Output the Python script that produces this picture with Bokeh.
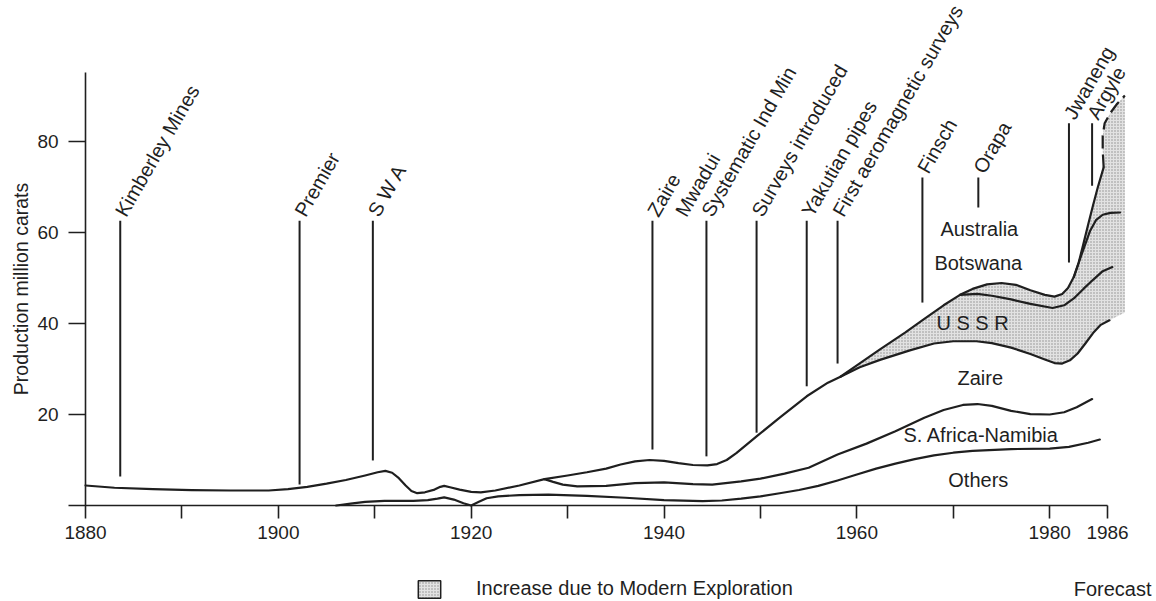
import numpy as np
from bokeh.plotting import figure
from bokeh.models import FixedTicker, Legend, LegendItem, Label
from bokeh.core.properties import value
from bokeh.embed import file_html
from bokeh.resources import INLINE

FONT = "Liberation Sans"
INK = "#1f1f1f"

# ---------------------------------------------------------------------------
# World diamond production, million carats.  Each array is the upper edge of a
# producer band, stacked from the bottom (Others -> S. Africa-Namibia -> Zaire
# -> USSR -> Botswana -> Australia).
# ---------------------------------------------------------------------------
others_years = [1906.0, 1907.5, 1909.0, 1911.0, 1914.0, 1915.5, 1916.5, 1917.2,
                1918.2, 1919.2, 1920.0, 1920.8, 1921.6, 1922.8, 1925.0, 1928.0,
                1932.0, 1936.0, 1940.0, 1944.0, 1946.0, 1948.0, 1950.0, 1952.0,
                1954.0, 1956.0, 1958.0, 1960.0, 1962.0, 1964.0, 1966.0, 1968.0,
                1970.0, 1972.0, 1976.0, 1980.0, 1982.0, 1984.0, 1985.2]
others_top = [0.0, 0.4, 0.8, 1.0, 1.0, 1.2, 1.5, 1.8,
              1.3, 0.5, 0.0, 0.8, 1.6, 2.0, 2.3, 2.4,
              2.1, 1.7, 1.2, 0.95, 1.1, 1.5, 2.0, 2.7,
              3.4, 4.3, 5.5, 6.8, 8.1, 9.2, 10.2, 11.0,
              11.6, 12.0, 12.4, 12.5, 12.9, 13.8, 14.5]

safrica_years = [1880.0, 1883.0, 1887.0, 1891.0, 1895.0, 1899.0, 1901.0, 1903.0,
                 1905.0, 1907.0, 1909.0, 1910.3, 1911.1, 1911.8, 1912.5, 1913.2,
                 1913.8, 1914.4, 1915.2, 1916.2, 1916.8, 1917.2, 1917.8, 1918.8,
                 1920.0, 1921.0, 1922.5, 1925.0, 1927.6, 1928.5, 1929.5, 1931.0,
                 1934.0, 1937.0, 1940.0, 1943.0, 1945.0, 1948.0, 1950.0, 1952.5,
                 1955.0, 1958.0, 1961.0, 1964.0, 1967.0, 1969.0, 1971.0, 1972.5,
                 1974.0, 1976.0, 1978.0, 1980.0, 1981.5, 1982.8, 1984.4]
safrica_top = [4.4, 3.9, 3.6, 3.4, 3.3, 3.3, 3.6, 4.1,
               4.8, 5.6, 6.6, 7.3, 7.6, 7.2, 6.0, 4.4,
               3.2, 2.7, 2.9, 3.5, 4.1, 4.3, 4.0, 3.5,
               3.0, 2.9, 3.3, 4.4, 5.8, 5.2, 4.6, 4.2,
               4.3, 4.9, 5.1, 4.7, 4.6, 5.3, 5.9, 7.0,
               8.3, 11.2, 13.6, 16.3, 19.3, 21.0, 22.1, 22.3,
               21.9, 20.8, 20.1, 20.0, 20.5, 21.6, 23.4]

zaire_years = [1927.6, 1930.0, 1932.0, 1934.0, 1935.5, 1937.0, 1938.5, 1940.0,
               1941.5, 1943.0, 1944.5, 1945.5, 1946.5, 1947.5, 1949.6, 1952.0,
               1954.8, 1957.0, 1958.3, 1960.3, 1962.4, 1965.5, 1968.0, 1970.0,
               1972.4, 1974.0, 1976.0, 1978.0, 1979.5, 1980.5, 1981.3, 1982.1,
               1982.9, 1983.7, 1984.5, 1985.3, 1986.2]
zaire_top = [5.8, 6.6, 7.3, 8.1, 9.0, 9.7, 10.0, 9.8,
             9.3, 8.9, 8.8, 9.1, 10.0, 11.5, 15.2, 19.3,
             24.0, 27.0, 28.3, 30.4, 32.0, 34.1, 35.6, 36.1,
             36.1, 35.7, 34.7, 33.3, 32.1, 31.3, 31.2, 31.9,
             33.4, 35.6, 37.9, 39.7, 40.7]

ussr_years = [1958.3, 1960.0, 1962.4, 1965.0, 1967.0, 1969.0, 1970.7, 1972.5,
              1974.0, 1976.0, 1978.0, 1980.3, 1981.5, 1982.5, 1983.5, 1984.5,
              1985.5, 1986.5]
ussr_top = [28.3, 30.8, 34.3, 38.0, 41.0, 44.0, 46.3, 46.5,
            46.1, 45.3, 44.3, 43.4, 44.0, 45.5, 47.6, 49.6,
            51.5, 52.4]

botswana_years = [1970.7, 1972.0, 1973.5, 1975.0, 1976.5, 1978.0, 1979.5, 1980.5,
                  1981.3, 1981.9, 1982.5, 1983.0, 1983.5, 1984.2, 1984.8, 1985.5,
                  1986.3, 1987.3]
botswana_top = [46.3, 47.6, 48.6, 48.9, 48.5, 47.3, 46.3, 45.9,
                46.5, 47.8, 50.2, 53.3, 56.3, 60.4, 62.7, 63.9,
                64.3, 64.4]

australia_years = [1982.5, 1983.0, 1983.5, 1984.0, 1984.5, 1985.0, 1985.6]
australia_top = [50.2, 53.3, 57.5, 61.8, 66.0, 70.0, 74.3]

# forecast total to the end of the decade
forecast_years = [1985.6, 1985.5, 1985.5, 1985.7, 1986.3, 1987.0, 1987.8]
forecast_top = [74.3, 78.0, 81.3, 84.0, 86.3, 88.3, 90.1]
forecast_floor_years = [1986.2, 1987.8]
forecast_floor = [40.7, 42.4]

# discoveries and exploration milestones
event_labels = ["Kimberley Mines", "Premier", "S W A", "Zaire", "Mwadui",
                "Systematic Ind Min", "Surveys introduced", "Yakutian pipes",
                "First aeromagnetic surveys", "Finsch", "Orapa", "Jwaneng", "Argyle"]
event_years = [1883.6, 1902.2, 1909.8, 1938.8, 1941.7, 1944.4, 1949.6, 1954.8,
               1958.0, 1966.8, 1972.6, 1982.0, 1984.4]
event_top = [62.6, 62.6, 62.6, 62.6, 62.6, 62.6, 62.6, 62.6,
             62.6, 72.1, 72.1, 84.0, 84.0]
event_base = [6.4, 4.6, 9.9, 12.3, np.nan, 10.8, 16.0, 26.2,
              31.2, 44.6, 65.5, 53.4, 70.3]

# producer band names
band_labels = ["Australia", "Botswana", "U S S R", "Zaire", "S. Africa-Namibia", "Others"]
band_x = [1972.7, 1972.6, 1972.0, 1972.8, 1972.9, 1972.6]
band_y = [60.7, 53.4, 40.2, 28.1, 15.4, 5.7]

# axis ticks
x_ticks = [1880, 1890, 1900, 1910, 1920, 1930, 1940, 1950, 1960, 1970, 1980, 1986]
x_tick_labels = ["1880", "", "1900", "", "1920", "", "1940", "", "1960", "", "1980", "1986"]
y_ticks = [20, 40, 60, 80]

# ---------------------------------------------------------------------------
p = figure(width=1156, height=601, x_range=(1871.18, 1991.08), y_range=(-21.1, 110.99),
           output_backend="svg", toolbar_location=None, min_border=0,
           outline_line_color=None, background_fill_color="white",
           border_fill_color="white")
p.xgrid.visible = False
p.ygrid.visible = False

# axes drawn through the data origin
xa = p.xaxis[0]
xa.fixed_location = 0
xa.bounds = (1878.24, 1986)
xa.ticker = FixedTicker(ticks=x_ticks)
xa.major_label_overrides = {t: s for t, s in zip(x_ticks, x_tick_labels)}
ya = p.yaxis[0]
ya.fixed_location = 1880
ya.bounds = (0, 95.2)
ya.ticker = FixedTicker(ticks=y_ticks)
for ax in (xa, ya):
    ax.axis_line_color = INK
    ax.axis_line_width = 1.6
    ax.major_tick_line_color = INK
    ax.major_tick_line_width = 1.6
    ax.minor_tick_line_color = None
    ax.major_tick_in = 0
    ax.major_label_text_font = FONT
    ax.major_label_text_font_size = "19px"
    ax.major_label_text_color = INK
xa.major_tick_out = 13
xa.major_label_standoff = 8
ya.major_tick_out = 17
ya.major_label_standoff = 10

p.add_layout(Label(x=1873.26, y=47.6, text="Production million carats", angle=np.pi / 2,
                   text_align="center", text_baseline="middle", text_font=FONT,
                   text_font_size="19.5px", text_color=INK))

# shaded band: growth attributable to modern exploration
zx = np.array(zaire_years)
zy = np.array(zaire_top)
ux, uy = np.array(ussr_years), np.array(ussr_top)
bx, by = np.array(botswana_years), np.array(botswana_top)
axx, axy = np.array(australia_years), np.array(australia_top)
fx, fy = np.array(forecast_years), np.array(forecast_top)
m_u = ux <= 1970.7
m_b = (bx > 1970.7) & (bx <= 1983.0)
m_a = axx > 1983.0
env_x = np.concatenate([ux[m_u], bx[m_b], axx[m_a], fx[1:]])
env_y = np.concatenate([uy[m_u], by[m_b], axy[m_a], fy[1:]])
m_z = zx >= 1958.3
shade_x = np.concatenate([zx[m_z], forecast_floor_years[1:], env_x[::-1]])
shade_y = np.concatenate([zy[m_z], forecast_floor[1:], env_y[::-1]])
shade = p.patch(shade_x, shade_y, fill_color="#e2e2e2", line_color=None,
                hatch_pattern="dot", hatch_color="#8c8c8c", hatch_scale=3, hatch_weight=1)

# band boundaries
line_kw = dict(line_color=INK, line_width=2.2, line_join="round", line_cap="round")
p.line(others_years, others_top, **line_kw)
p.line(safrica_years, safrica_top, **line_kw)
p.line(zaire_years, zaire_top, **line_kw)
p.line(ussr_years, ussr_top, **line_kw)
p.line(botswana_years, botswana_top, **line_kw)
p.line(australia_years, australia_top, **line_kw)
p.line(forecast_years, forecast_top, line_color=INK, line_width=2.2, line_dash="13 6")

# milestone markers
has_base = ~np.isnan(np.array(event_base))
ev_x = np.array(event_years)
p.segment(x0=ev_x[has_base], y0=np.array(event_base)[has_base],
          x1=ev_x[has_base], y1=np.array(event_top)[has_base],
          line_color=INK, line_width=2.0)
p.text(x=event_years, y=[t + 1.3 for t in event_top], text=event_labels,
       angle=np.pi / 3, text_align="left", text_baseline="middle",
       text_font=value(FONT), text_font_size="20px", text_color=INK)

# band names
p.text(x=band_x, y=band_y, text=band_labels, text_align="center", text_baseline="middle",
       text_font=value(FONT), text_font_size="20px", text_color=INK)

# key: stippled swatch with a dark frame (the frame glyph has no plotted data)
edge = p.quad(left=[np.nan], right=[np.nan], top=[np.nan], bottom=[np.nan],
              fill_color=None, line_color=INK, line_width=1.5)
legend = Legend(items=[LegendItem(label="Increase due to Modern Exploration",
                                  renderers=[shade, edge])],
                location=(415, 1), orientation="horizontal", glyph_width=28,
                glyph_height=22, label_standoff=33, padding=0, margin=0, spacing=0,
                border_line_color=None, background_fill_alpha=0,
                label_text_font=FONT, label_text_font_size="20px",
                label_text_color=INK)
p.add_layout(legend)
p.text(x=[1990.56], y=[-18.46], text=["Forecast"], text_align="right",
       text_baseline="middle", text_font=value(FONT), text_font_size="20px",
       text_color=INK)

open("out.html", "w").write(file_html(p, INLINE))
